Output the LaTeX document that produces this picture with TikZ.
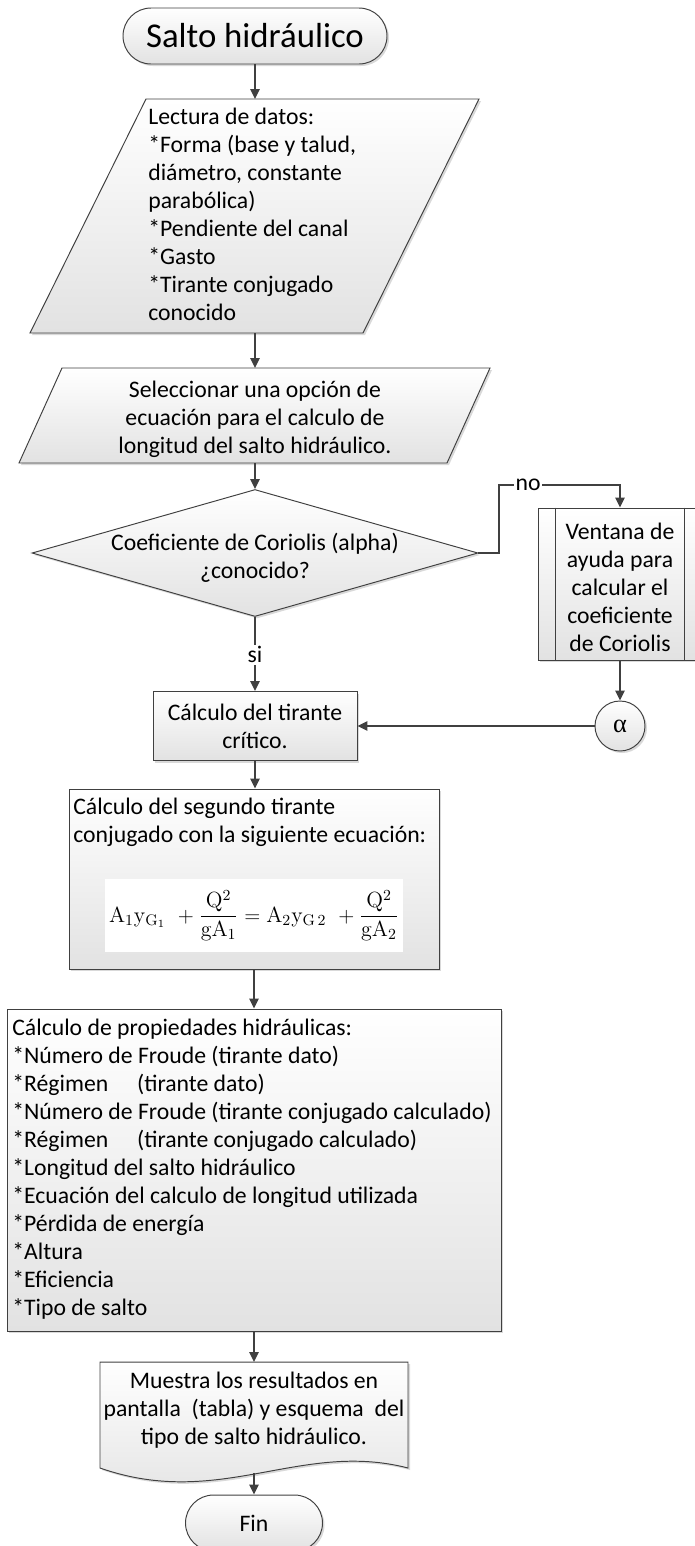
\documentclass[tikz,border=0pt]{standalone}
\usepackage{fontspec}
\usepackage{amsmath}
\newfontfamily\calibri{Carlito}
\newfontfamily\cambria{Liberation Serif}
\usetikzlibrary{shapes.geometric,shadows,arrows.meta}
\definecolor{linea}{HTML}{404040}
\definecolor{relleno}{HTML}{E2E2E2}
\newlength\pix
\setlength\pix{0.02cm}

\begin{document}
\begin{tikzpicture}[
    x=0.02cm, y=-0.02cm,
    >={Triangle[length=0.2cm,width=0.19cm]},
    every node/.style={font=\calibri\fontsize{13.5pt}{15.9pt}\selectfont, inner sep=0pt},
    forma/.style={
        draw=linea,
        line width=0.55pt,
        top color=white,
        bottom color=relleno,
        drop shadow={shadow xshift=0.04cm, shadow yshift=-0.04cm, opacity=0.3}
    },
    caja/.style={forma, rectangle, align=center},
    term/.style={forma, rectangle, rounded corners=0.56cm, minimum height=56\pix},
    arr/.style={->, draw=linea, line width=0.9pt},
    etiq/.style={fill=white, inner sep=1pt}
]
    \useasboundingbox (0,0) rectangle (695,1546);
    \clip (0,0) rectangle (695,1546);

    % Inicio
    \node[term, minimum width=264\pix, font=\calibri\fontsize{19.8pt}{23pt}\selectfont] (inicio) at (255,36) {Salto hidráulico};

    % Lectura de datos
    \path[forma] (146,99) -- (479,99) -- (363,333) -- (30,333) -- cycle;
    \coordinate (datosN) at (255,99);
    \coordinate (datosS) at (255,333);
    \node[anchor=north west, align=left] (datos) at (148,108) {Lectura de datos:\\{}*Forma (base y talud,\\diámetro, constante\\parabólica)\\{}*Pendiente del canal\\{}*Gasto\\{}*Tirante conjugado\\conocido};

    % Seleccionar ecuacion
    \path[forma] (62,368) -- (490,368) -- (447,463) -- (19,463) -- cycle;
    \coordinate (opcionN) at (255,368);
    \coordinate (opcionS) at (255,463);
    \node[align=center] (opcion) at (255,419) {Seleccionar una opción de\\ecuación para el calculo de\\longitud del salto hidráulico.};

    % Decision Coriolis
    \node[forma, diamond, minimum width=446\pix, minimum height=127\pix] (coriolis) at (255,553) {};
    \node[align=center] (coriolisTxt) at (255,558) {Coeficiente de Coriolis (alpha)\\¿conocido?};

    % Ventana de ayuda
    \node[caja, minimum width=164\pix, minimum height=152\pix] (ventana) at (620,584) {};
    \draw[draw=linea, line width=0.55pt] ([xshift=18\pix]ventana.north west) -- ([xshift=18\pix]ventana.south west);
    \draw[draw=linea, line width=0.55pt] ([xshift=-18\pix]ventana.north east) -- ([xshift=-18\pix]ventana.south east);
    \node[align=center] (ventanaTxt) at (620,587) {Ventana de\\ayuda para\\calcular el\\coeficiente\\de Coriolis};

    % Conector alpha
    \node[forma, circle, minimum size=50\pix, font=\cambria\fontsize{15pt}{18pt}\selectfont] (alfa) at (620,726) {α};

    % Tirante critico
    \node[caja, minimum width=204\pix, minimum height=69\pix] (critico) at (255,726) {Cálculo del tirante\\crítico.};

    % Segundo tirante
    \node[caja, minimum width=370\pix, minimum height=180\pix] (segundo) at (254,879) {};
    \node[anchor=north west, align=left] (segundoTxt) at (73,798) {Cálculo del segundo tirante\\conjugado con la siguiente ecuación:};
    \node[fill=white, minimum width=298\pix, minimum height=73\pix, font=\fontsize{12.5pt}{15pt}\selectfont] (ecuacion) at (254,915.5)
        {$\mathrm{A_1y_{G_1}}\ +\dfrac{\mathrm{Q^2}}{\mathrm{gA_1}}=\mathrm{A_2y_{G\,2}}\ +\dfrac{\mathrm{Q^2}}{\mathrm{gA_2}}$};

    % Propiedades hidraulicas
    \node[caja, minimum width=494\pix, minimum height=322\pix] (propiedades) at (254,1170) {};
    \node[anchor=north west, align=left] (propTxt) at (12,1019) {Cálculo de propiedades hidráulicas:\\{}*Número de Froude (tirante dato)\\{}*Régimen\hspace{0.47cm} (tirante dato)\\{}*Número de Froude (tirante conjugado calculado)\\{}*Régimen\hspace{0.47cm} (tirante conjugado calculado)\\{}*Longitud del salto hidráulico\\{}*Ecuación del calculo de longitud utilizada\\{}*Pérdida de energía\\{}*Altura\\{}*Eficiencia\\{}*Tipo de salto};

    % Resultados
    \path[forma] (100,1362) -- (408,1362) -- (408,1468) .. controls (300,1440) and (220,1510) .. (100,1468) -- cycle;
    \coordinate (docN) at (254,1362);
    \coordinate (docS) at (254,1473);
    \node[align=center] (resultados) at (254,1410) {Muestra los resultados en\\pantalla~ (tabla) y esquema~ del\\tipo de salto hidráulico.};

    % Fin
    \node[term, minimum width=137\pix] (fin) at (254,1523) {Fin};

    % Conectores
    \coordinate (noA) at (499,553);
    \coordinate (noB) at (620,485);
    \draw[arr] (inicio.south) -- (datosN);
    \draw[arr] (datosS) -- (opcionN);
    \draw[arr] (opcionS) -- (coriolis.north);
    \draw[arr] (coriolis.east) -- (noA) |- node[etiq, pos=0.62] {no} (noB) -- (ventana.north);
    \draw[arr] (ventana.south) -- (alfa.north);
    \draw[arr] (alfa.west) -- (critico.east);
    \draw[arr] (coriolis.south) -- node[etiq, pos=0.51] {si} (critico.north);
    \draw[arr] (critico.south) -- (critico.south |- segundo.north);
    \draw[arr] (segundo.south) -- (segundo.south |- propiedades.north);
    \draw[arr] (propiedades.south) -- (docN);
    \draw[arr] (docS) -- (fin.north);

\end{tikzpicture}
\end{document}
